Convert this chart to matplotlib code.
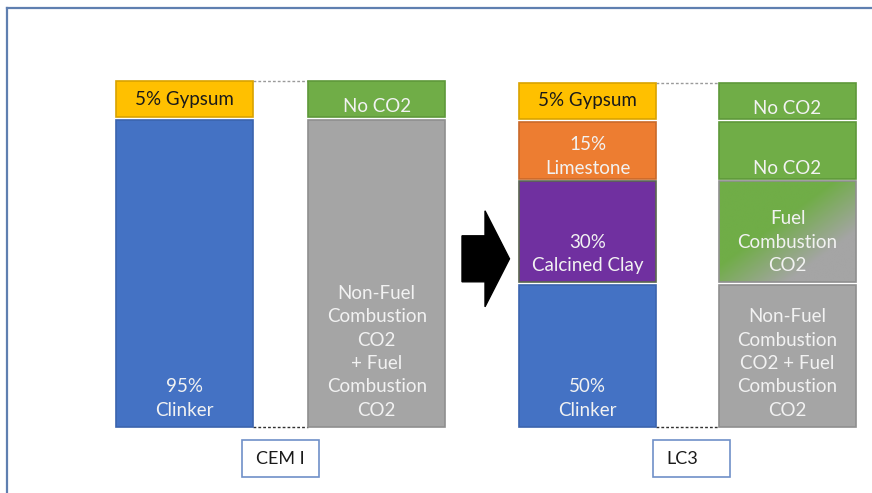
import numpy as np
import matplotlib.pyplot as plt
import matplotlib.patches as mpatches
from matplotlib.colors import to_rgb

plt.rcParams['font.family'] = ['Lato', 'DejaVu Sans']

# cement composition (percent) and drawn segment heights (px, bottom -> top)
cem_pct = [95, 5]
cem_names = ['Clinker', 'Gypsum']
cem_heights = [307, 36]
cem_co2 = ['Non-Fuel\nCombustion\nCO2\n+ Fuel\nCombustion\nCO2', 'No CO2']

lc3_pct = [50, 30, 15, 5]
lc3_names = ['Clinker', 'Calcined Clay', 'Limestone', 'Gypsum']
lc3_heights = [142, 101, 57, 36]
lc3_co2 = ['Non-Fuel\nCombustion\nCO2 + Fuel\nCombustion\nCO2', 'Fuel\nCombustion\nCO2',
           'No CO2', 'No CO2']

mixes = ['CEM I', 'LC3']

colors = {'Clinker': '#4472C4', 'Gypsum': '#FFC000', 'Limestone': '#ED7D31',
          'Calcined Clay': '#7030A0'}
edges = {'Clinker': '#3B64AE', 'Gypsum': '#D9A300', 'Limestone': '#C9692A',
         'Calcined Clay': '#5B6650'}
GREEN, GRAY = '#70AD47', '#A5A5A5'
WHITE_TXT = '#F2F2F2'

W, H = 872, 493
base = H - 426.7   # bar baseline (y up)
gap = 2.6
bar_w = 137

fig = plt.figure(figsize=(W / 100, H / 100), dpi=100)
ax = fig.add_axes([0, 0, 1, 1])
ax.set_xlim(0, W)
ax.set_ylim(0, H)
ax.axis('off')


def stack(heights):
    bottoms = []
    b = base
    for h in heights:
        bottoms.append(b)
        b += h + gap
    return bottoms


def label(ax, xc, bottom, h, txt, color):
    if 'Gypsum' in txt:
        ax.text(xc, bottom + h / 2, txt, ha='center', va='center', fontsize=13.5,
                color='#1A1A1A')
    else:
        pad = 5 if h < 60 else 11
        ax.text(xc, bottom + pad, txt, ha='center', va='baseline', fontsize=13.5,
                color=color, linespacing=1.45)


def gradient_bar(ax, xc, bottom, h):
    rect = ax.bar(xc, h, bottom=bottom, width=bar_w, color='none',
                  edgecolor='#8F8F8F', linewidth=1.2, zorder=3)[0]
    nx, ny = 200, 150
    xx, yy = np.meshgrid(np.linspace(0, 1, nx), np.linspace(0, 1, ny))
    t = (xx + yy) / 2  # 0 top-left, 1 bottom-right (image row 0 is top)
    t = np.clip((t - 0.42) / 0.33, 0, 1)[..., None]
    g, k = np.array(to_rgb(GREEN)), np.array(to_rgb(GRAY))
    img = g * (1 - t) + k * t
    im = ax.imshow(img, extent=[xc - bar_w / 2, xc + bar_w / 2, bottom, bottom + h],
                   origin='upper', aspect='auto', zorder=2)
    im.set_clip_path(rect)


centers_comp = [184, 587.7]
centers_co2 = [376.7, 787.5]
comp_sets = [(cem_pct, cem_names, cem_heights), (lc3_pct, lc3_names, lc3_heights)]
co2_sets = [cem_co2, lc3_co2]
name_shift = [-1, -9]   # text offset inside the name boxes

for i, (pct, names, heights) in enumerate(comp_sets):
    xc = centers_comp[i]
    bots = stack(heights)
    for p, n, h, b in zip(pct, names, heights, bots):
        ax.bar(xc, h, bottom=b, width=bar_w, color=colors[n], edgecolor=edges[n],
               linewidth=1.2, zorder=2)
        txt = f'{p}% {n}' if n == 'Gypsum' else f'{p}%\n{n}'
        label(ax, xc, b, h, txt, WHITE_TXT)

    xo = centers_co2[i]
    for lab, h, b in zip(co2_sets[i], heights, bots):
        if lab.startswith('Fuel'):
            gradient_bar(ax, xo, b, h)
        else:
            c = GREEN if lab == 'No CO2' else GRAY
            ec = '#5E983A' if lab == 'No CO2' else '#8F8F8F'
            ax.bar(xo, h, bottom=b, width=bar_w, color=c, edgecolor=ec,
                   linewidth=1.2, zorder=2)
        label(ax, xo, b, h, lab, WHITE_TXT)

    # dotted connectors
    top = bots[-1] + heights[-1]
    x0, x1 = xc + bar_w / 2, xo - bar_w / 2
    ax.plot([x0, x1], [top, top], color='#9A9A9A', lw=1, ls=(0, (2, 1.5)), zorder=1)
    ax.plot([x0, x1], [base, base], color='#303030', lw=1, ls=(0, (2, 1.5)), zorder=1)

    # name box
    bx = (centers_comp[i] + centers_co2[i]) / 2 - 38 + (3 if i == 1 else 0)
    ax.add_patch(mpatches.Rectangle((bx, H - 477), 77, 37, facecolor='white',
                                    edgecolor='#7090C8', linewidth=1.2, zorder=3))
    ax.text(bx + 38.5 + name_shift[i], H - 458.5, mixes[i], ha='center', va='center',
            fontsize=13, color='#1A1A1A', zorder=4)

# block arrow between the two cements
ax.add_patch(mpatches.FancyArrow(462, H - 258.8, 47.5, 0, width=46, head_width=96,
                                 head_length=24.5, length_includes_head=True,
                                 color='black', zorder=2))

# screenshot frame (top and left edges)
ax.plot([7, W], [H - 7.5, H - 7.5], color='#5F7FB0', lw=1.6)
ax.plot([7, 7], [0, H - 7.5], color='#5F7FB0', lw=1.6)

fig.savefig('out.png', dpi=100)
